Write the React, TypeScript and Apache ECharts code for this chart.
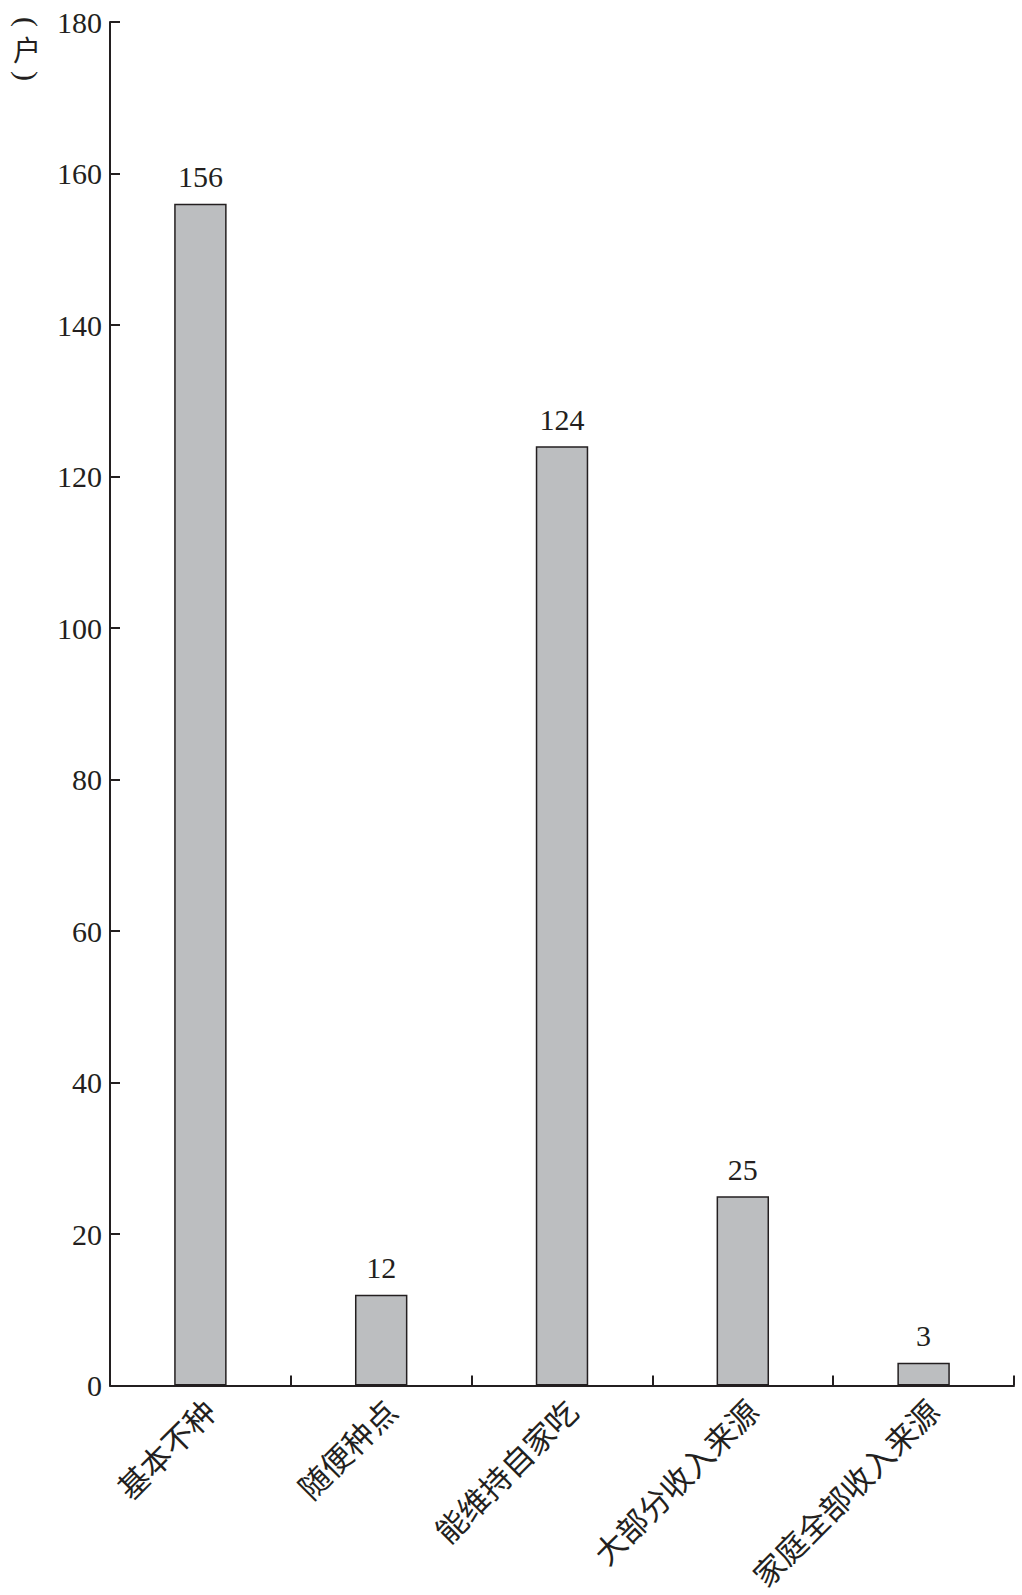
import React, { useEffect, useRef } from "react";
import * as echarts from "echarts";

const categories = ["基本不种", "随便种点", "能维持自家吃", "大部分收入来源", "家庭全部收入来源"];
const households = [156, 12, 124, 25, 3];
const yTicks = { min: 0, max: 180, interval: 20 };
const yUnit = "户";

const INK = "#231f20";
const SERIF = "'Liberation Serif', 'Times New Roman', 'Noto Sans CJK SC', serif";
const CJK = "'Noto Sans CJK SC', sans-serif";

export default function App() {
  const ref = useRef<HTMLDivElement>(null);

  useEffect(() => {
    if (!ref.current) return;
    const chart = echarts.init(ref.current, undefined, { renderer: "svg" });
    // vertical unit label: brackets turned a quarter turn, unit glyph upright
    const unitX = 27;
    const bracket = (ch: string, y: number) => ({
      type: "text",
      x: unitX,
      y,
      rotation: -Math.PI / 2,
      style: {
        text: ch,
        fill: INK,
        font: `30px ${SERIF}`,
        align: "center",
        verticalAlign: "middle",
      },
    });
    chart.setOption({
      animation: false,
      backgroundColor: "#ffffff",
      grid: { left: 110, right: 8, top: 22, bottom: 207, containLabel: false },
      xAxis: {
        type: "category",
        data: categories,
        boundaryGap: true,
        axisLine: { lineStyle: { color: INK, width: 2 } },
        axisTick: { show: true, inside: true, length: 10, lineStyle: { color: INK, width: 2 } },
        axisLabel: {
          rotate: 45,
          margin: 10,
          verticalAlign: "top",
          color: INK,
          fontSize: 31,
          fontFamily: SERIF,
        },
        splitLine: { show: false },
      },
      yAxis: {
        type: "value",
        min: yTicks.min,
        max: yTicks.max,
        interval: yTicks.interval,
        axisLine: { show: true, lineStyle: { color: INK, width: 2 } },
        axisTick: { show: true, inside: true, length: 10, lineStyle: { color: INK, width: 2 } },
        axisLabel: { color: INK, fontSize: 30, fontFamily: SERIF, margin: 8 },
        splitLine: { show: false },
      },
      graphic: [
        bracket("(", 22),
        {
          type: "text",
          x: unitX,
          y: 49,
          style: {
            text: yUnit,
            fill: INK,
            font: `28px ${CJK}`,
            align: "center",
            verticalAlign: "middle",
          },
        },
        bracket(")", 76),
      ],
      series: [
        {
          type: "bar",
          data: households,
          barWidth: "29%",
          itemStyle: { color: "#bcbec0", borderColor: INK, borderWidth: 1.5 },
          label: {
            show: true,
            position: "top",
            distance: 12,
            color: INK,
            fontSize: 30,
            fontFamily: SERIF,
          },
        },
      ],
    });
    return () => chart.dispose();
  }, []);

  return (
    <div
      ref={ref}
      style={{ position: "absolute", left: 0, top: 0, width: 1022, height: 1595 }}
    />
  );
}
